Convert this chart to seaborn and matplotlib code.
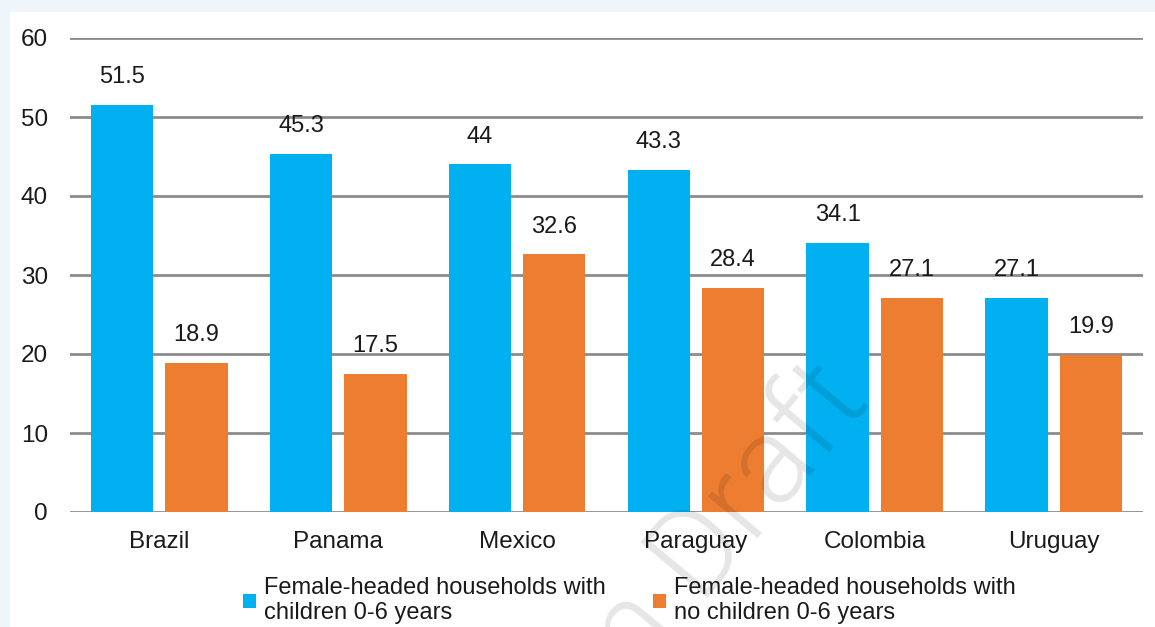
import matplotlib
matplotlib.use("Agg")
import matplotlib.pyplot as plt
from matplotlib.patches import Rectangle
import seaborn as sns
import pandas as pd

# Share of female-headed households (%) by country
countries = ["Brazil", "Panama", "Mexico", "Paraguay", "Colombia", "Uruguay"]
with_children = [51.5, 45.3, 44.0, 43.3, 34.1, 27.1]
no_children = [18.9, 17.5, 32.6, 28.4, 27.1, 19.9]
series_names = ["Female-headed households with\nchildren 0-6 years",
                "Female-headed households with\nno children 0-6 years"]
y_ticks = [0, 10, 20, 30, 40, 50, 60]

BLUE = "#00b0f0"
ORANGE = "#ed7d31"
GRID = "#8c8c8c"
TEXT = "#1a1a1a"

df = pd.DataFrame({
    "country": countries * 2,
    "value": with_children + no_children,
    "series": [series_names[0]] * len(countries) + [series_names[1]] * len(countries),
})

sns.set_style("white")
plt.rcParams["font.family"] = ["Liberation Sans", "DejaVu Sans"]

W, H = 1155, 627
fig = plt.figure(figsize=(W / 100, H / 100), dpi=100, facecolor="#eef6fc")
# white content panel inside the light-blue frame
fig.patches.append(Rectangle((10 / W, 0), 1 - 10 / W, 1 - 12 / H,
                             transform=fig.transFigure, facecolor="white",
                             edgecolor="none", zorder=-1))

ax = fig.add_axes([70 / W, 1 - 512 / H, (1143 - 70) / W, (512 - 38) / H])
ax.set_facecolor("none")

sns.barplot(data=df, x="country", y="value", hue="series",
            palette=[BLUE, ORANGE], width=0.83, gap=0.16,
            saturation=1, linewidth=0, ax=ax, zorder=3)

for cont in ax.containers:
    ax.bar_label(cont, fmt="{:g}", padding=12, fontsize=17, color=TEXT)

ax.set_ylim(0, 60)
ax.set_yticks(y_ticks)
ax.set_xlim(-0.5, len(countries) - 0.5)
ax.yaxis.grid(True, color=GRID, linewidth=2.0, zorder=0)
ax.set_axisbelow(True)
for s in ax.spines.values():
    s.set_visible(False)
ax.tick_params(axis="both", length=0, labelsize=17.5, colors=TEXT)
ax.tick_params(axis="y", pad=16)
ax.tick_params(axis="x", pad=14)
ax.set_xlabel("")
ax.set_ylabel("")

handles, labels = ax.get_legend_handles_labels()
ax.get_legend().remove()
leg = fig.legend(handles, labels, loc="upper center", ncol=2,
                 bbox_to_anchor=(0.545, 0.098), frameon=False, fontsize=17,
                 handlelength=0.55, handleheight=0.55, handletextpad=0.35,
                 columnspacing=2.0, borderpad=0, labelcolor=TEXT)
for t in leg.get_texts():
    t.set_linespacing(1.15)
leg.set_zorder(6)

# draft watermark
fig.text(872 / W, 1 - 402 / H, "Version Draft", fontsize=88,
         family=["Roboto", "Liberation Sans"], fontweight=300,
         color="black", alpha=0.1, rotation=50, rotation_mode="anchor",
         ha="right", va="baseline", zorder=4)

fig.savefig("out.png", dpi=100, facecolor=fig.get_facecolor())
